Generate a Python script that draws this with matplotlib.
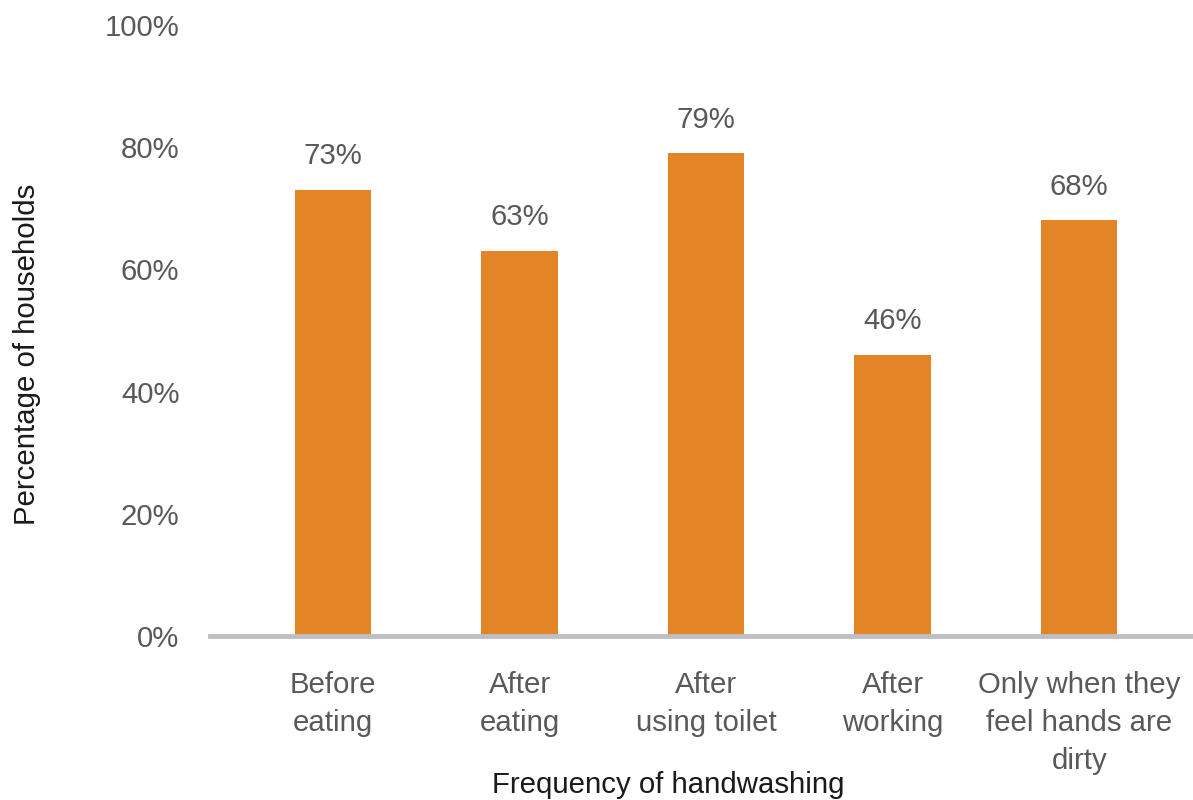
import matplotlib
matplotlib.use("Agg")
import matplotlib.pyplot as plt
from matplotlib.ticker import FuncFormatter

categories = ["Before\neating", "After\neating", "After\nusing toilet",
              "After\nworking", "Only when they\nfeel hands are\ndirty"]
shares = [73, 63, 79, 46, 68]
y_ticks = [0, 20, 40, 60, 80, 100]

plt.rcParams["font.family"] = ["Liberation Sans", "DejaVu Sans"]

BAR_COLOR = "#E38427"
TEXT_GREY = "#595959"
AXIS_GREY = "#BFBFC3"
FS = 21.2

fig = plt.figure(figsize=(11.93, 8.0), dpi=100)
ax = fig.add_axes([0.176, 0.205, 0.824, 0.764])

x = list(range(len(categories)))
bars = ax.bar(x, shares, width=0.41, color=BAR_COLOR, zorder=2)

for rect, v in zip(bars, shares):
    ax.annotate(f"{v}%", (rect.get_x() + rect.get_width() / 2, rect.get_height()),
                xytext=(0, 14), textcoords="offset points",
                ha="center", va="bottom", fontsize=FS, color=TEXT_GREY)

ax.set_xlim(-0.66, 4.61)
ax.set_ylim(0, 100)
ax.set_yticks(y_ticks)
ax.yaxis.set_major_formatter(FuncFormatter(lambda v, _: f"{v:.0f}%"))
ax.set_xticks(x)
ax.set_xticklabels(categories, fontsize=FS, color=TEXT_GREY, linespacing=1.45)
for lab in ax.get_yticklabels():
    lab.set_fontsize(FS)
    lab.set_color(TEXT_GREY)

ax.tick_params(axis="y", length=0, pad=22)
ax.tick_params(axis="x", length=0, pad=25)

for side in ("top", "right", "left"):
    ax.spines[side].set_visible(False)
ax.spines["bottom"].set_color(AXIS_GREY)
ax.spines["bottom"].set_linewidth(3.5)
ax.spines["bottom"].set_zorder(3)

ax.set_xlabel("Frequency of handwashing", fontsize=FS, color="#1a1a1a")
ax.xaxis.set_label_coords(0.466, -0.221)
ax.set_ylabel("Percentage of households", fontsize=FS, color="#1a1a1a")
ax.yaxis.set_label_coords(-0.172, 0.46)

fig.savefig("out.png", dpi=100, facecolor="white")
